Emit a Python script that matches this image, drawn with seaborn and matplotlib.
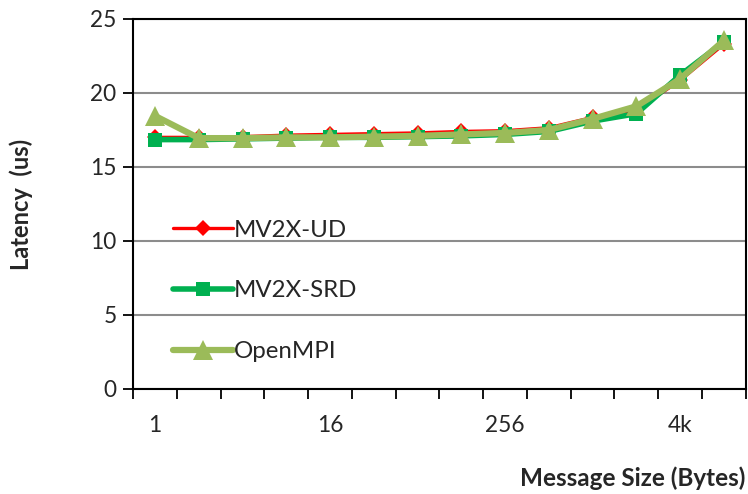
import matplotlib
matplotlib.use("Agg")
import matplotlib.pyplot as plt
import seaborn as sns
import pandas as pd
import numpy as np

sizes = ["1", "2", "4", "8", "16", "32", "64", "128", "256", "512", "1k", "2k", "4k", "8k"]
mv2x_ud = [17.0, 17.0, 17.05, 17.15, 17.2, 17.25, 17.3, 17.4, 17.45, 17.65, 18.35, 18.85, 20.85, 23.3]
mv2x_srd = [16.85, 16.85, 16.9, 16.95, 17.0, 17.0, 17.05, 17.1, 17.2, 17.4, 18.1, 18.6, 21.2, 23.45]
openmpi = [18.45, 16.95, 16.95, 17.0, 17.0, 17.05, 17.1, 17.2, 17.3, 17.5, 18.25, 19.1, 20.95, 23.55]
series_names = ["MV2X-UD", "MV2X-SRD", "OpenMPI"]
tick_labels = ["1", "16", "256", "4k"]
yticks = [0, 5, 10, 15, 20, 25]

sns.set_theme(style="white")
plt.rcParams["font.family"] = ["Lato", "DejaVu Sans"]

df = pd.DataFrame({
    "pos": list(range(len(sizes))) * 3,
    "latency": mv2x_ud + mv2x_srd + openmpi,
    "series": [series_names[0]] * len(sizes) + [series_names[1]] * len(sizes) + [series_names[2]] * len(sizes),
})

fig = plt.figure(figsize=(7.48, 4.94), dpi=100)
ax = fig.add_axes([0.178, 0.2126, 0.819, 0.749])

styles = {
    "MV2X-UD": dict(color="#FF0000", lw=2.4, marker="D", ms=8),
    "MV2X-SRD": dict(color="#00B050", lw=4.0, marker="s", ms=10),
    "OpenMPI": dict(color="#9BBB59", lw=4.5, marker="^", ms=14),
}
for name in series_names:
    st = styles[name]
    sub = df[df["series"] == name]
    sns.lineplot(data=sub, x="pos", y="latency", ax=ax, color=st["color"], linewidth=st["lw"],
                 marker=st["marker"], markersize=st["ms"], markeredgewidth=0,
                 markerfacecolor=st["color"], label=name, zorder=3)

ax.set_xlim(-0.5, len(sizes) - 0.5)
ax.set_ylim(0, 25)
ax.set_yticks(yticks)
ax.set_yticklabels([str(v) for v in yticks], fontsize=16.3)
major_pos = [sizes.index(t) for t in tick_labels]
ax.set_xticks(major_pos)
ax.set_xticklabels(tick_labels, fontsize=16.3)
ax.tick_params(axis="x", which="major", length=0, pad=19)
ax.set_xticks(np.arange(-0.5, len(sizes), 1.0), minor=True)
ax.tick_params(axis="x", which="minor", length=7, width=1.3, color="black", direction="out", bottom=True)
ax.tick_params(axis="y", which="major", length=7, width=1.3, color="black", direction="out", left=True, pad=5)

ax.grid(axis="y", color="#8c8c8c", linewidth=1.5)
ax.grid(axis="x", visible=False)
for s in ax.spines.values():
    s.set_color("black")
    s.set_linewidth(1.5)

ax.set_xlabel("")
ax.set_ylabel("Latency  (us)", fontsize=17, fontweight="bold")
ax.yaxis.set_label_coords(-0.163, 0.5)
fig.text(0.997, 0.032, "Message Size (Bytes)", ha="right", va="center", fontsize=17.5, fontweight="bold")

leg = ax.legend(loc="center left", bbox_to_anchor=(0.049, 0.265), frameon=False, fontsize=17.3,
                handlelength=2.5, labelspacing=1.65, handletextpad=0.05, borderaxespad=0)

fig.savefig("out.png", dpi=100)
